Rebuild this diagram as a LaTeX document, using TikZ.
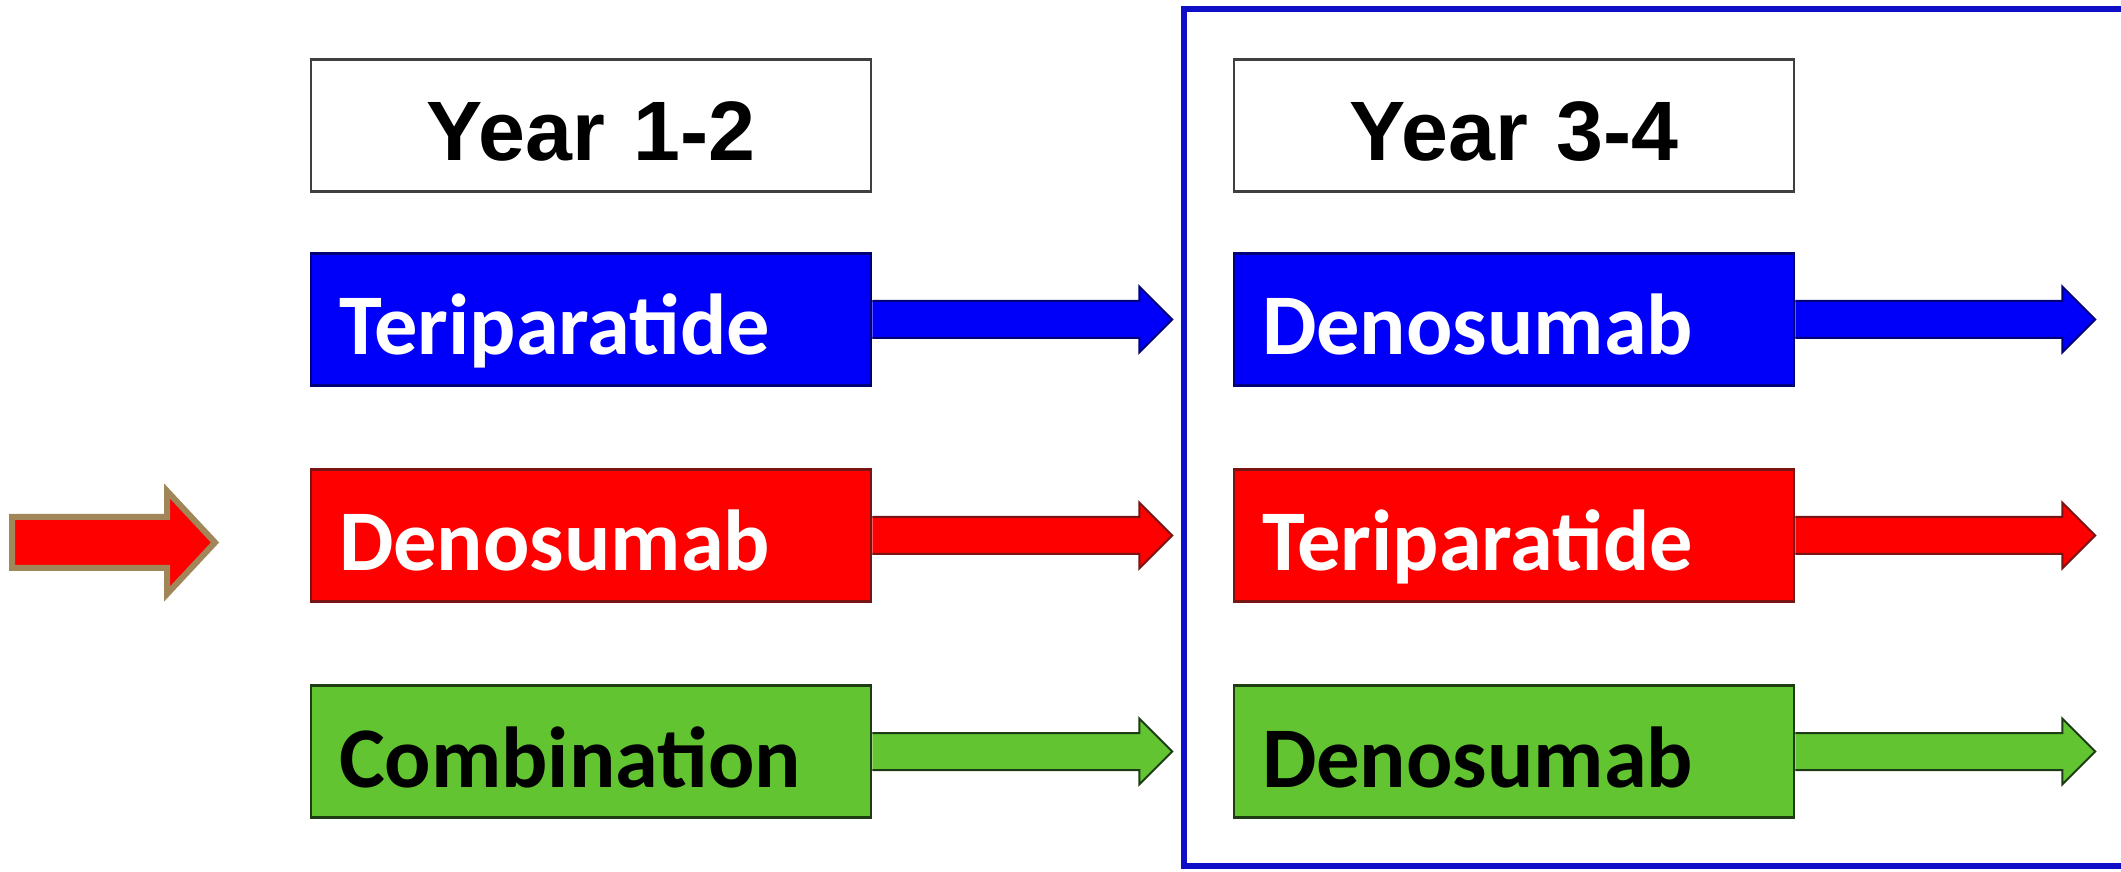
\documentclass[tikz,border=0pt]{standalone}
\usepackage{fontspec}
\setmainfont{Carlito}
\newfontfamily\yearfont{Liberation Sans}
\usetikzlibrary{calc}
\definecolor{myblue}{RGB}{0,0,250}
\definecolor{myblueedge}{RGB}{0,0,120}
\definecolor{myred}{RGB}{255,0,0}
\definecolor{myrededge}{RGB}{120,20,20}
\definecolor{mygreen}{RGB}{98,196,48}
\definecolor{mygreenedge}{RGB}{30,60,20}
\definecolor{framecol}{RGB}{15,15,200}
\definecolor{brownedge}{RGB}{160,134,88}
\newcommand{\fatarrow}[4]{%
  \coordinate (#2) at ($(#1.east)+(300,0)$);
  \draw[fill=#3, draw=#4, line width=0.2mm, line join=miter]
    ($(#1.east)+(0,-18.5)$) -- ($(#1.east)+(267,-18.5)$) -- ($(#1.east)+(267,-33)$)
    -- (#2) -- ($(#1.east)+(267,33)$) -- ($(#1.east)+(267,18.5)$) -- ($(#1.east)+(0,18.5)$);
}
\begin{document}
\begin{tikzpicture}[x=0.1mm,y=-0.1mm,
  box/.style={rectangle, minimum width=56mm, minimum height=13.2mm, text width=50.4mm,
    inner xsep=2.8mm, inner ysep=0pt, text height=7.6mm, text depth=0.5mm, line width=0.25mm},
  yearbox/.style={box, draw=black!75, fill=white, align=center, text=black,
    font=\yearfont\fontsize{24}{24}\selectfont\bfseries},
  drugbox/.style={box, align=left, font=\fontsize{24.6}{24.6}\selectfont\bfseries},
  bluebox/.style={drugbox, fill=myblue, draw=myblueedge, text=white},
  redbox/.style={drugbox, fill=myred, draw=myrededge, text=white},
  greenbox/.style={drugbox, fill=mygreen, draw=mygreenedge, text=black},
  pointer/.style={fill=myred, draw=brownedge, line width=0.6mm, line join=miter}
]
\useasboundingbox[fill=white] (0,0) rectangle (2121,872);
\clip (0,0) rectangle (2121,872);

% frame around years 3-4
\draw[framecol, line width=0.55mm] (1184,9) rectangle (2160,866);

% left column
\node[yearbox] (y1) at (591,125.5) {Year 1-2};
\node[bluebox] (l1) at (591,319.5) {Teriparatide};
\node[redbox] (l2) at (591,535.5) {Denosumab};
\node[greenbox] (l3) at (591,751.5) {Combination};

% right column
\node[yearbox] (y2) at (1514,125.5) {Year 3-4};
\node[bluebox] (r1) at (1514,319.5) {Denosumab};
\node[redbox] (r2) at (1514,535.5) {Teriparatide};
\node[greenbox] (r3) at (1514,751.5) {Denosumab};

\fatarrow{l1}{tl1}{myblue}{myblueedge}
\fatarrow{l2}{tl2}{myred}{myrededge}
\fatarrow{l3}{tl3}{mygreen}{mygreenedge}
\fatarrow{r1}{tr1}{myblue}{myblueedge}
\fatarrow{r2}{tr2}{myred}{myrededge}
\fatarrow{r3}{tr3}{mygreen}{mygreenedge}

% red pointer arrow
\draw[pointer] (12,517) -- (167,517) -- (167,491) -- (215,542.5) -- (167,594)
  -- (167,568) -- (12,568) -- cycle;
\end{tikzpicture}
\end{document}
